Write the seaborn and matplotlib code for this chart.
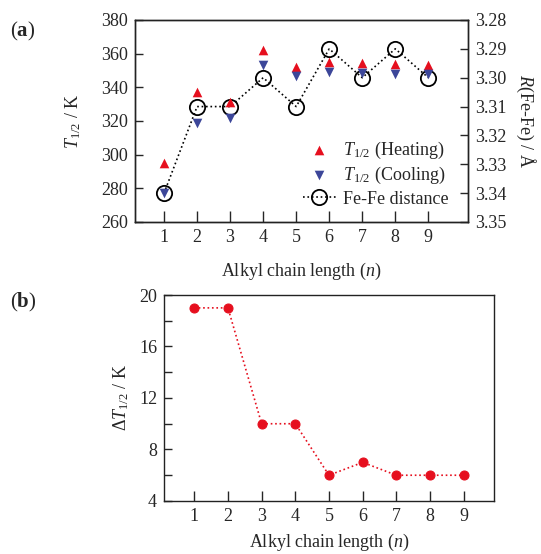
import matplotlib
matplotlib.use('Agg')
import matplotlib.pyplot as plt
import seaborn as sns
from matplotlib.ticker import MultipleLocator

# --- Data ---
chain_length = [1, 2, 3, 4, 5, 6, 7, 8, 9]
t_heating = [295, 337, 331, 362, 352, 355, 354.5, 354, 353.5]
t_cooling = [277, 319, 321.5, 353, 347, 349, 348.5, 348, 348]
fe_fe_distance = [3.340, 3.310, 3.310, 3.300, 3.310, 3.290, 3.300, 3.290, 3.300]
delta_t = [19, 19, 10, 10, 6, 7, 6, 6, 6]

red = '#e60f1e'
blue = '#3c4699'

sns.set_style('ticks')
plt.rcParams['font.family'] = ['Liberation Serif', 'DejaVu Serif']
plt.rcParams['mathtext.fontset'] = 'custom'
plt.rcParams['mathtext.rm'] = 'Liberation Serif'
plt.rcParams['mathtext.it'] = 'Liberation Serif:italic'
plt.rcParams['mathtext.bf'] = 'Liberation Serif:bold'
plt.rcParams['font.size'] = 13
plt.rcParams['axes.linewidth'] = 1.0

fig = plt.figure(figsize=(5.41, 5.54), dpi=100)

# --- (a) transition temperatures and Fe-Fe distance ---
ax = fig.add_axes([0.2495, 0.5993, 0.6155, 0.3646])
ax2 = ax.twinx()

sns.lineplot(x=chain_length, y=fe_fe_distance, ax=ax2, color='black', linestyle=':',
             linewidth=1.2, marker='o', markersize=11, markerfacecolor='none',
             markeredgecolor='black', markeredgewidth=1.3, label='Fe-Fe distance',
             legend=False)
sns.scatterplot(x=chain_length, y=t_heating, ax=ax, marker='^', color=red, s=48,
                linewidth=0, label=r'$T_{\mathrm{1/2}}$ (Heating)', zorder=3)
sns.scatterplot(x=chain_length, y=t_cooling, ax=ax, marker='v', color=blue, s=48,
                linewidth=0, label=r'$T_{\mathrm{1/2}}$ (Cooling)', zorder=3)

ax.set_zorder(ax2.get_zorder() + 1)
ax.patch.set_visible(False)

ax.set_xlim(0.12, 10.2)
ax.set_ylim(260, 380)
ax.set_yticks(range(260, 381, 20))
ax.set_xticks(chain_length)
ax2.set_ylim(3.35, 3.28)
ax2.set_yticks([3.28, 3.29, 3.30, 3.31, 3.32, 3.33, 3.34, 3.35])
ax2.set_yticklabels(['3.28', '3.29', '3.30', '3.31', '3.32', '3.33', '3.34', '3.35'])

ax.set_xlabel(r'Alkyl chain length ($n$)', labelpad=11)
ax.set_ylabel(r'$T_{\mathrm{1/2}}$ / K', labelpad=13)
ax2.set_ylabel(r'$R$(Fe-Fe) / Å', rotation=-90, labelpad=22)

for a in (ax, ax2):
    a.tick_params(direction='in', length=6, width=1.0, labelsize=13, pad=5)
    a.tick_params(axis='x', length=8)
    for s in a.spines.values():
        s.set_visible(True)
        s.set_linewidth(1.0)
        s.set_color('#222222')

h1, l1 = ax.get_legend_handles_labels()
h2, l2 = ax2.get_legend_handles_labels()
ax.legend(h1 + h2, l1 + l2, loc='lower right', frameon=False, fontsize=13,
          handlelength=1.8, handletextpad=0.4, labelspacing=0.25,
          bbox_to_anchor=(0.99, -0.01))

fig.text(0.018, 0.935, r'($\mathbf{a}$)', fontsize=15)

# --- (b) thermal hysteresis width ---
bx = fig.add_axes([0.3031, 0.0957, 0.61, 0.3718])
sns.lineplot(x=chain_length, y=delta_t, ax=bx, color=red, linestyle=':', linewidth=1.2,
             marker='o', markersize=6.5, markeredgecolor=red, markerfacecolor=red)
bx.set_xlim(0.1, 9.9)
bx.set_ylim(4, 20)
bx.set_xticks(chain_length)
bx.set_yticks([4, 8, 12, 16, 20])
bx.yaxis.set_minor_locator(MultipleLocator(2))
bx.tick_params(direction='in', length=6, width=1.0, labelsize=13, pad=5)
bx.tick_params(axis='y', which='minor', direction='in', length=6, width=1.0)
bx.tick_params(axis='x', length=7)
for s in bx.spines.values():
    s.set_visible(True)
    s.set_linewidth(1.0)
    s.set_color('#222222')
bx.set_xlabel(r'Alkyl chain length ($n$)', labelpad=5)
bx.set_ylabel(r'$\Delta T_{\mathrm{1/2}}$ / K', labelpad=6)

fig.text(0.018, 0.445, r'($\mathbf{b}$)', fontsize=15)

fig.savefig('out.png', dpi=100)
plt.close(fig)
